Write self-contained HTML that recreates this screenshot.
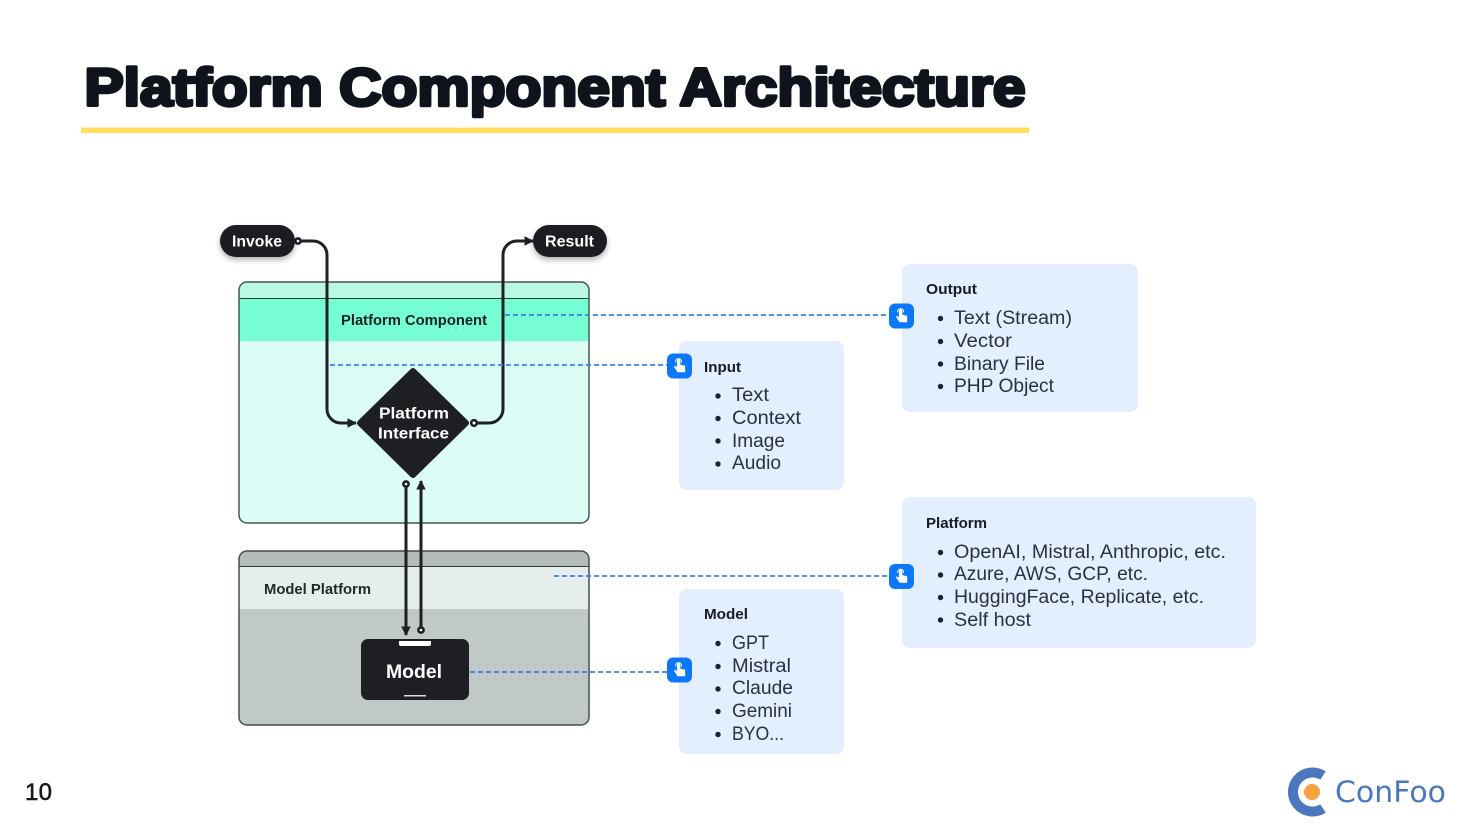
<!DOCTYPE html>
<html><head><meta charset="utf-8"><style>
html,body{margin:0;padding:0;background:#fff;width:1470px;height:828px;overflow:hidden}
svg{display:block}
text{font-family:"Liberation Sans",sans-serif}
.i{font-size:19px;fill:#2a3140}
.h{font-size:15px;font-weight:bold;fill:#171b26}
.w{fill:#fff;font-weight:bold}
</style></head><body>
<svg width="1470" height="828" viewBox="0 0 1470 828" xmlns="http://www.w3.org/2000/svg">
<defs>
<filter id="s" x="-30%" y="-30%" width="160%" height="180%"><feDropShadow dx="0" dy="3" stdDeviation="3" flood-color="#000" flood-opacity=".3"/></filter>
<marker id="a" viewBox="0 0 10 10" refX="9" refY="5" markerWidth="3.2" markerHeight="3.6" orient="auto"><path d="M0 0L10 5L0 10z" fill="#1e2024"/></marker>
<g id="hand"><rect x="-12.5" y="-12.5" width="25" height="25" rx="6" fill="#0b78fa"/><path d="M-2.6 -5v6.200l-1.900-1.400-1 1.200 3.600 5.200h7.600v-6.400l-4.800-1.200v-3.600a1.250 1.250 0 0 0-3.500 0z" fill="#fff"/><path d="M-3.800 -3.600a3 3 0 1 1 5.800 0" fill="none" stroke="#fff" stroke-width=".9"/></g>
</defs>

<text x="84.500" y="105.500" font-size="53" font-weight="bold" fill="#0f131c" stroke="#0f131c" stroke-width="3.400" stroke-linejoin="round" textLength="941" lengthAdjust="spacingAndGlyphs">Platform Component Architecture</text>
<rect x="81" y="127.500" width="948" height="5.500" fill="#ffe15c"/>

<!-- Platform Component box -->
<rect x="239" y="282" width="350" height="241" rx="8" fill="#dcfdf5"/>
<path d="M239 298V290a8 8 0 0 1 8-8H581a8 8 0 0 1 8 8V298z" fill="#b9f8e4"/>
<rect x="239" y="298" width="350" height="43" fill="#76fdd3"/>
<path d="M239 298.500H589" stroke="#24403a" stroke-width="1"/>
<rect x="239" y="282" width="350" height="241" rx="8" fill="none" stroke="#49564f" stroke-width="1.500"/>
<text x="341" y="325" font-size="14.500" font-weight="bold" fill="#10231e" textLength="146" lengthAdjust="spacingAndGlyphs">Platform Component</text>

<!-- Model Platform box -->
<rect x="239" y="551" width="350" height="174" rx="8" fill="#c1c9c8"/>
<path d="M239 566V559a8 8 0 0 1 8-8H581a8 8 0 0 1 8 8V566z" fill="#b4bbb9"/>
<rect x="239" y="566" width="350" height="43" fill="#e5eeed"/>
<path d="M239 566.500H589" stroke="#333a3a" stroke-width="1"/>
<rect x="239" y="551" width="350" height="174" rx="8" fill="none" stroke="#474d4d" stroke-width="1.500"/>
<text x="264" y="594" font-size="14.500" font-weight="bold" fill="#22272a" textLength="107" lengthAdjust="spacingAndGlyphs">Model Platform</text>

<!-- Connectors -->
<g fill="none" stroke="#1e2024" stroke-width="3">
<path d="M298 241H313a14 14 0 0 1 14 14V409a14 14 0 0 0 14 14H356" marker-end="url(#a)"/>
<path d="M474 423H489a14 14 0 0 0 14-14V255a14 14 0 0 1 14-14H533" marker-end="url(#a)"/>
<path d="M406 484V635" marker-end="url(#a)"/>
<path d="M421 630V481" marker-end="url(#a)"/>
</g>
<g fill="#fff" stroke="#1e2024" stroke-width="2.600">
<circle cx="298" cy="241" r="2.600"/><circle cx="474" cy="423" r="2.800"/><circle cx="406" cy="484" r="2.600"/><circle cx="421" cy="630" r="2.600"/>
</g>

<!-- Pills -->
<rect x="220" y="225" width="75" height="32" rx="16" fill="#1e1f23" filter="url(#s)"/>
<rect x="533" y="225" width="74" height="32" rx="16" fill="#1e1f23" filter="url(#s)"/>
<text x="232" y="246.500" class="w" font-size="15.500" textLength="50" lengthAdjust="spacingAndGlyphs">Invoke</text>
<text x="545" y="246.500" class="w" font-size="15.500" textLength="49" lengthAdjust="spacingAndGlyphs">Result</text>

<!-- Diamond -->
<path d="M413 371L466 423L413 475L360 423Z" fill="#1e1f23" stroke="#1e1f23" stroke-width="6" stroke-linejoin="round"/>
<text x="379" y="418.500" class="w" font-size="16" textLength="70" lengthAdjust="spacingAndGlyphs">Platform</text>
<text x="378" y="438.500" class="w" font-size="16" textLength="71" lengthAdjust="spacingAndGlyphs">Interface</text>

<!-- Model -->
<rect x="361" y="639" width="108" height="61" rx="7" fill="#1e1f22"/>
<path d="M399 641H431V644a2 2 0 0 1-2 2H401a2 2 0 0 1-2-2z" fill="#fff"/>
<rect x="404" y="695" width="22" height="1.500" fill="#dcdcdc"/>
<text x="386" y="678" class="w" font-size="19" textLength="56" lengthAdjust="spacingAndGlyphs">Model</text>

<!-- Panels -->
<g fill="#e3effe">
<rect x="902" y="264" width="236" height="148" rx="8"/>
<rect x="679" y="341" width="165" height="149" rx="8"/>
<rect x="902" y="497" width="354" height="151" rx="8"/>
<rect x="679" y="589" width="165" height="165" rx="8"/>
</g>

<!-- Dashed -->
<g stroke="#3a80e6" stroke-width="1.700" stroke-dasharray="5 3" fill="none">
<path d="M505 315H890"/><path d="M330 365H668"/><path d="M554 576H890"/><path d="M470 672H668"/>
</g>
<use href="#hand" x="901.500" y="316"/>
<use href="#hand" x="679.500" y="366"/>
<use href="#hand" x="901.500" y="576.500"/>
<use href="#hand" x="679.500" y="670"/>

<!-- Output -->
<text x="926" y="294" class="h" textLength="51" lengthAdjust="spacingAndGlyphs">Output</text>
<text x="954" y="324" class="i" textLength="118" lengthAdjust="spacingAndGlyphs">Text (Stream)</text>
<text x="954" y="347" class="i" textLength="58" lengthAdjust="spacingAndGlyphs">Vector</text>
<text x="954" y="370" class="i" textLength="91" lengthAdjust="spacingAndGlyphs">Binary File</text>
<text x="954" y="392" class="i" textLength="100" lengthAdjust="spacingAndGlyphs">PHP Object</text>
<g fill="#1c2230"><circle cx="940.500" cy="318.500" r="2.700"/><circle cx="940.500" cy="341.500" r="2.700"/><circle cx="940.500" cy="364" r="2.700"/><circle cx="940.500" cy="386.500" r="2.700"/></g>

<!-- Input -->
<text x="704" y="372" class="h" textLength="37" lengthAdjust="spacingAndGlyphs">Input</text>
<text x="732" y="401" class="i" textLength="37" lengthAdjust="spacingAndGlyphs">Text</text>
<text x="732" y="424" class="i" textLength="69" lengthAdjust="spacingAndGlyphs">Context</text>
<text x="732" y="447" class="i" textLength="53" lengthAdjust="spacingAndGlyphs">Image</text>
<text x="732" y="469" class="i" textLength="49" lengthAdjust="spacingAndGlyphs">Audio</text>
<g fill="#1c2230"><circle cx="718" cy="396" r="2.700"/><circle cx="718" cy="418.500" r="2.700"/><circle cx="718" cy="441" r="2.700"/><circle cx="718" cy="464" r="2.700"/></g>

<!-- Platform -->
<text x="926" y="528" class="h" textLength="61" lengthAdjust="spacingAndGlyphs">Platform</text>
<text x="954" y="558" class="i" textLength="272" lengthAdjust="spacingAndGlyphs">OpenAI, Mistral, Anthropic, etc.</text>
<text x="954" y="580" class="i" textLength="194" lengthAdjust="spacingAndGlyphs">Azure, AWS, GCP, etc.</text>
<text x="954" y="603" class="i" textLength="250" lengthAdjust="spacingAndGlyphs">HuggingFace, Replicate, etc.</text>
<text x="954" y="626" class="i" textLength="77" lengthAdjust="spacingAndGlyphs">Self host</text>
<g fill="#1c2230"><circle cx="940.500" cy="552.500" r="2.700"/><circle cx="940.500" cy="575" r="2.700"/><circle cx="940.500" cy="597.500" r="2.700"/><circle cx="940.500" cy="620" r="2.700"/></g>

<!-- Model panel -->
<text x="704" y="619" class="h" textLength="44" lengthAdjust="spacingAndGlyphs">Model</text>
<text x="732" y="649" class="i" textLength="37" lengthAdjust="spacingAndGlyphs">GPT</text>
<text x="732" y="672" class="i" textLength="59" lengthAdjust="spacingAndGlyphs">Mistral</text>
<text x="732" y="694" class="i" textLength="61" lengthAdjust="spacingAndGlyphs">Claude</text>
<text x="732" y="717" class="i" textLength="60" lengthAdjust="spacingAndGlyphs">Gemini</text>
<text x="732" y="740" class="i" textLength="52" lengthAdjust="spacingAndGlyphs">BYO...</text>
<g fill="#1c2230"><circle cx="718" cy="643.500" r="2.700"/><circle cx="718" cy="666.500" r="2.700"/><circle cx="718" cy="689" r="2.700"/><circle cx="718" cy="711.500" r="2.700"/><circle cx="718" cy="734.500" r="2.700"/></g>

<!-- Footer -->
<text x="25" y="800" font-size="24" fill="#15181f" stroke="#15181f" stroke-width=".5" textLength="27">10</text>
<path d="M1323 775.600A19.500 19.500 0 1 0 1323 808.400" fill="none" stroke="#4b78bd" stroke-width="10"/>
<circle cx="1312" cy="792" r="8" fill="#f9a03f"/>
<text x="1335" y="802" font-size="29" style="font-family:'DejaVu Sans',sans-serif" fill="#4b78bd" textLength="111" lengthAdjust="spacingAndGlyphs">ConFoo</text>
</svg>
</body></html>
